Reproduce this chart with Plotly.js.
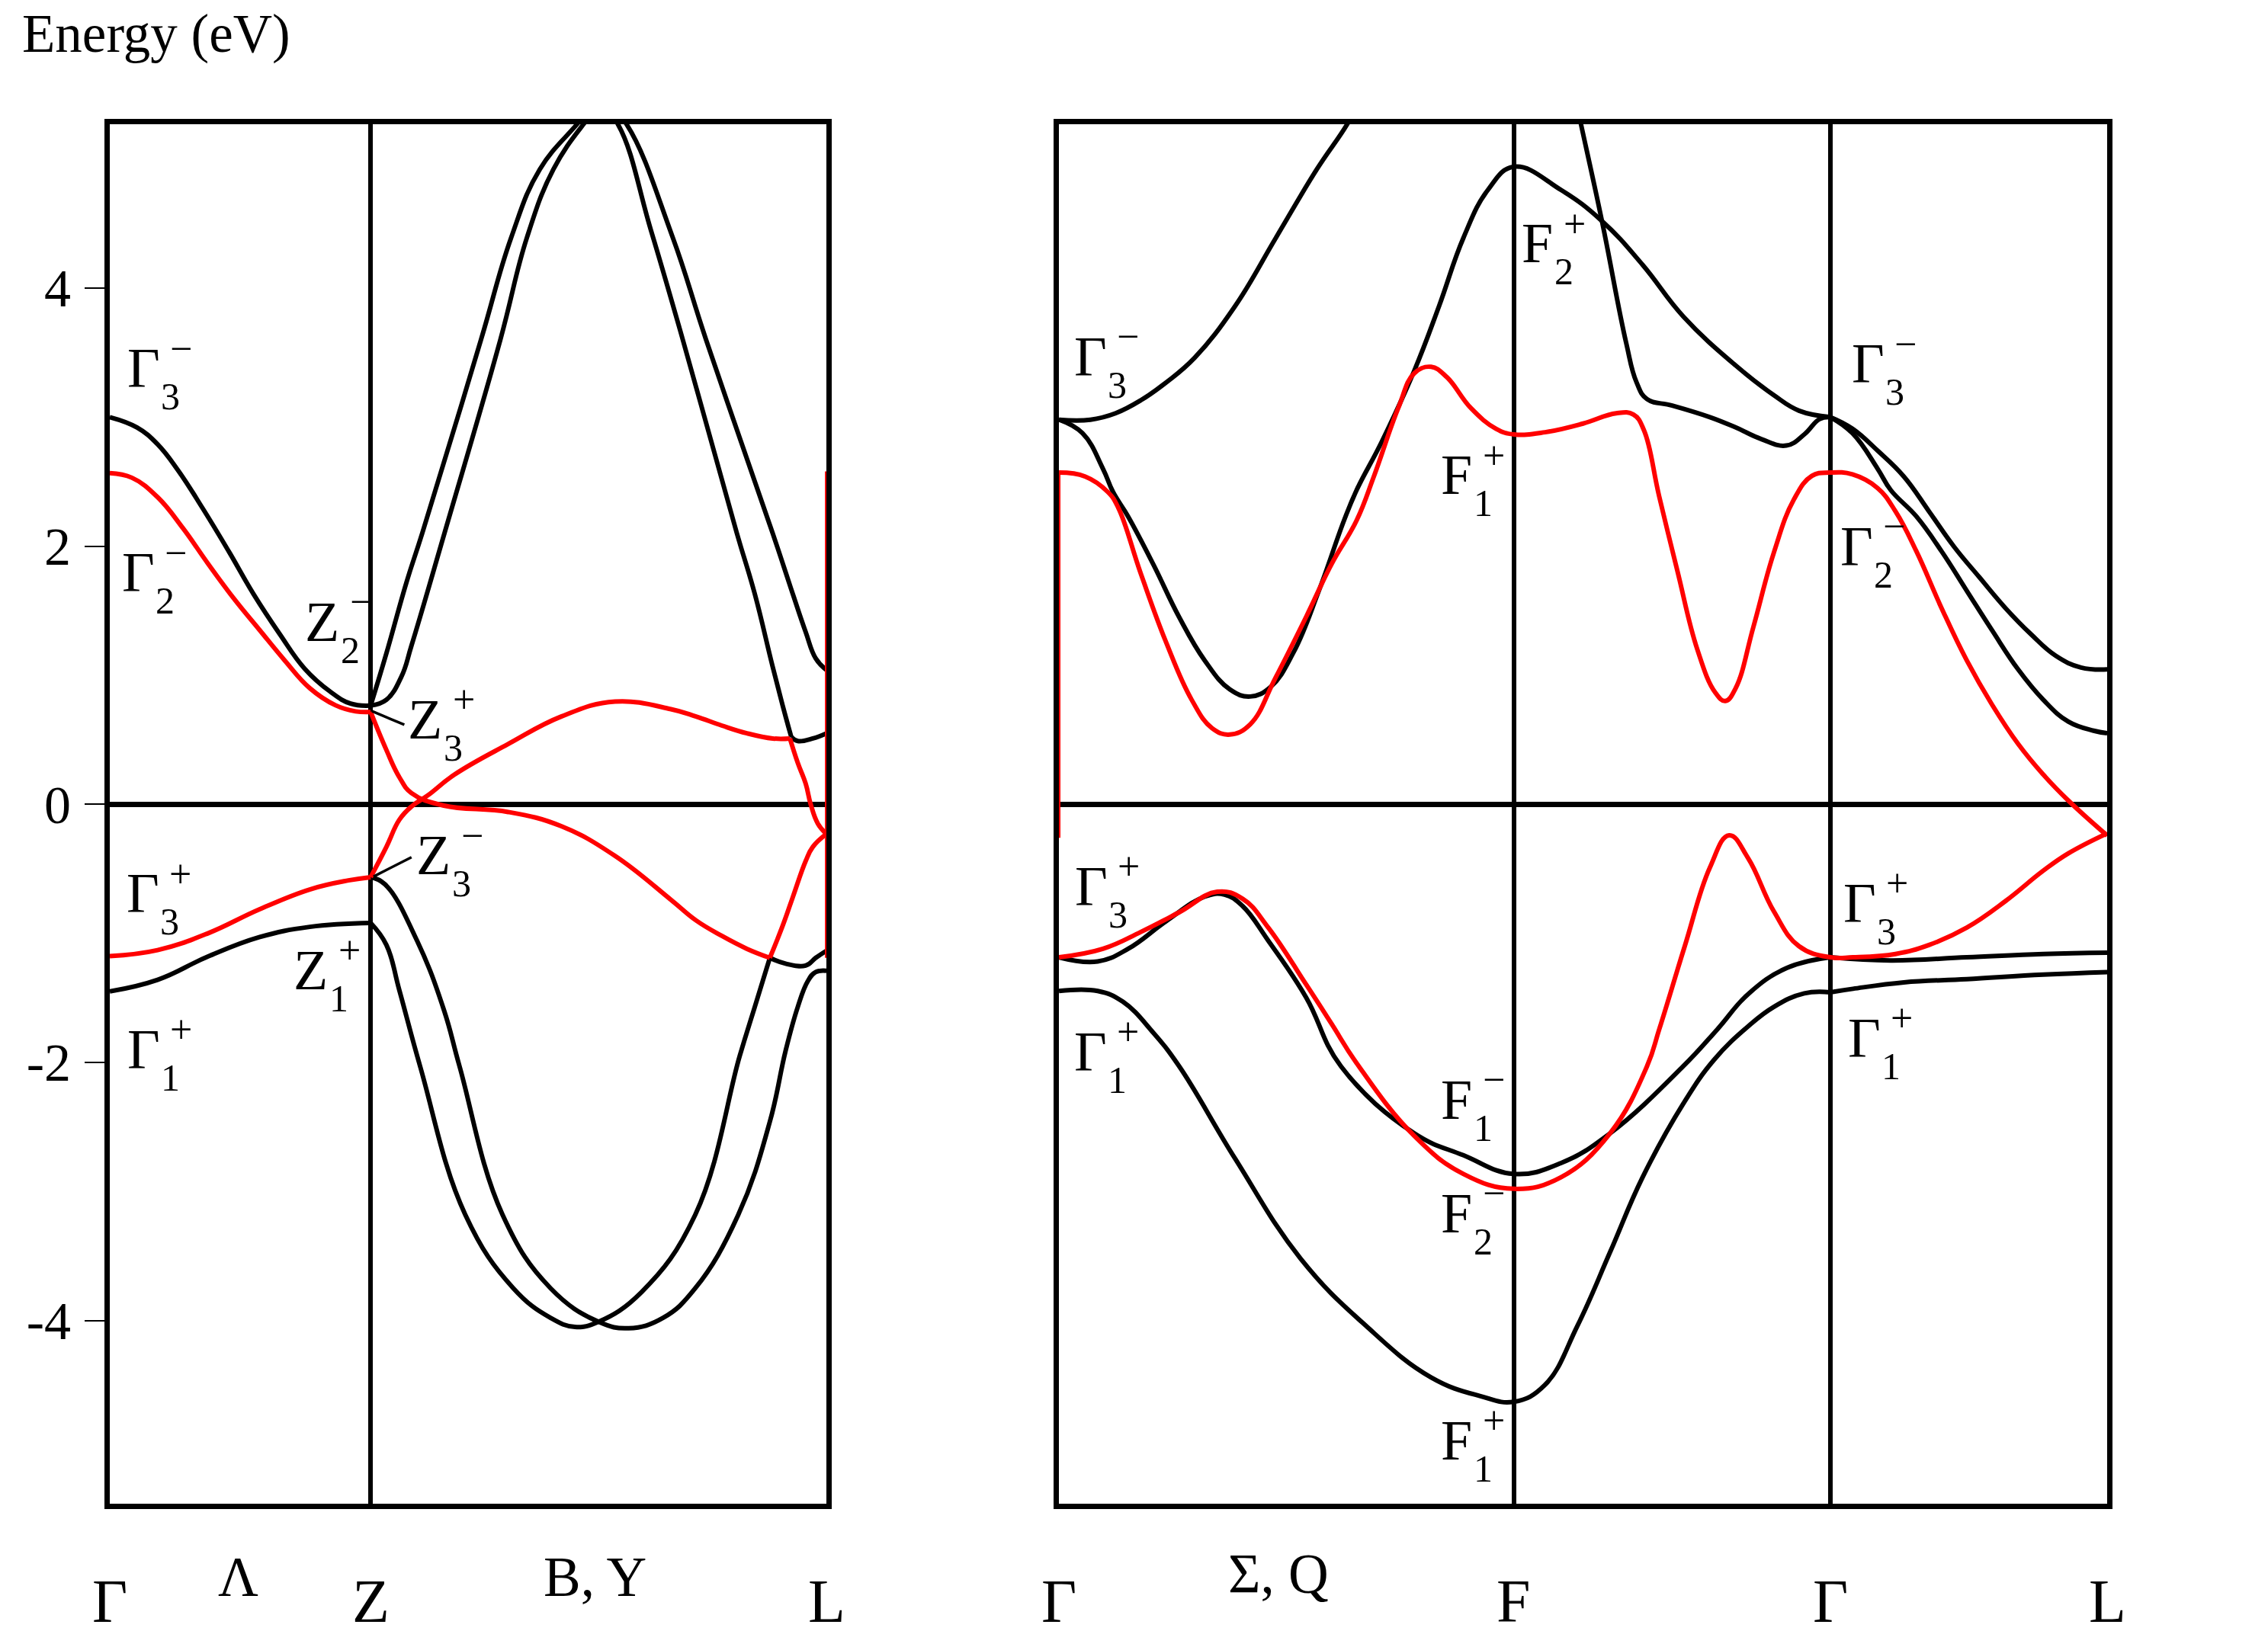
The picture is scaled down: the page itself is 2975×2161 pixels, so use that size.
<!DOCTYPE html>
<html>
<head>
<meta charset="utf-8">
<script src="https://cdn.plot.ly/plotly-3.0.1.min.js"></script>
<style>
  html, body { margin: 0; padding: 0; background: #fff; }
  #bands { width: 2975px; height: 2161px; }
</style>
</head>
<body>
<div id="bands"></div>
<script>
// band structure, energies in eV, k = fraction of the path length in each panel

// ---- panel 1: Γ - Z - L ----
const leftPath = [["Γ", 0], ["Z", 0.364], ["L", 1]];
const leftLines = [["Λ", 0.179], ["B, Y", 0.677]];

const leftGamma3m = [[0,3.00],[.038,2.92],[.0667,2.79],[.095,2.59],[.13,2.29],[.166,1.96],[.201,1.625],[.237,1.32],[.272,1.05],[.3075,.873],[.336,.78],[.364,.765]];
const leftGamma1p = [[0,-1.45],[.0667,-1.36],[.137,-1.18],[.2085,-1.03],[.279,-.95],[.364,-.92]];
const leftUpperA = [[.364,.765],[.386,1.17],[.414,1.72],[.436,2.10],[.518,3.60],[.56,4.39],[.60,4.92],[.652,5.27],[.68,5.45],[.709,5.27],[.755,4.45],[.797,3.65],[.875,2.10],[.90,1.63],[.925,1.065],[.943,.68],[.951,.52]];
const leftHookL1p = [[.951,.52],[.96,.49],[.981,.51],[1,.55]];
const leftUpperB = [[.364,.765],[.386,.81],[.407,.99],[.421,1.23],[.467,2.10],[.545,3.60],[.582,4.39],[.619,4.92],[.661,5.27],[.69,5.45],[.721,5.27],[.785,4.40],[.832,3.60],[.925,2.10],[.953,1.63],[.971,1.335],[.985,1.13],[1,1.04]];
const leftLowerA = [[.364,-.92],[.386,-1.09],[.404,-1.44],[.433,-2.03],[.496,-3.18],[.563,-3.75],[.615,-3.98],[.649,-4.05],[.682,-4.01],[.742,-3.78],[.817,-3.18],[.879,-1.95],[.90,-1.57],[.921,-1.19]];
const leftLowerB = [[.364,-.565],[.384,-.62],[.429,-1.06],[.466,-1.59],[.488,-2.03],[.548,-3.18],[.615,-3.75],[.682,-4.01],[.724,-4.06],[.772,-3.98],[.817,-3.75],[.877,-3.18],[.921,-2.46],[.943,-1.91],[.96,-1.57],[.974,-1.37],[.985,-1.30],[1,-1.29]];
const leftHookL2p = [[.921,-1.19],[.943,-1.235],[.971,-1.25],[.985,-1.19],[1,-1.135]];

const leftRedGamma2m = [[0,2.566],[.031,2.53],[.0667,2.38],[.102,2.14],[.137,1.865],[.173,1.595],[.2085,1.354],[.244,1.115],[.279,.90],[.315,.767],[.343,.72],[.364,.715]];
const leftRedGamma3p = [[0,-1.177],[.0667,-1.13],[.137,-1.0],[.2085,-.815],[.279,-.66],[.333,-.59],[.364,-.565]];
const leftRedFromZ3p = [[.364,.715],[.386,.42],[.404,.21],[.421,.087],[.466,-.01],[.556,-.06],[.63,-.17],[.705,-.40],[.783,-.74],[.818,-.90],[.854,-1.02],[.889,-1.12],[.921,-1.19]];
const leftRedFromZ3m = [[.364,-.565],[.386,-.33],[.404,-.12],[.421,-.017],[.444,.07],[.481,.23],[.556,.467],[.63,.68],[.705,.796],[.783,.737],[.818,.68],[.854,.61],[.889,.55],[.925,.51],[.949,.51]];
const leftRedDropL = [[.949,.51],[.96,.32],[.971,.16],[.978,0],[.988,-.15],[1,-.23]];
const leftRedRiseL = [[.921,-1.19],[.939,-.94],[.953,-.72],[.971,-.44],[.981,-.33],[1,-.23]];
const leftRedEdgeL = [[1,2.58],[1,-1.19]];

// ---- panel 2: Γ - F - Γ - L ----
const rightPath = [["Γ", 0], ["F", 0.434], ["Γ", 0.7358], ["L", 1]];
const rightLines = [["Σ, Q", 0.2095]];

const rightGamma3mUp = [[0,2.98],[.03,2.98],[.054,3.03],[.078,3.13],[.1025,3.27],[.1295,3.46],[.168,3.86],[.207,4.39],[.246,4.92],[.275,5.27],[.29,5.5]];
const rightF2p = [[0,2.98],[.0225,2.875],[.042,2.60],[.0516,2.42],[.066,2.23],[.09,1.86],[.1147,1.45],[.139,1.115],[.163,.89],[.1825,.835],[.202,.91],[.224,1.18],[.248,1.655],[.272,2.20],[.284,2.435],[.308,2.81],[.339,3.36],[.3626,3.86],[.3859,4.39],[.4092,4.76],[.434,4.94],[.479,4.76],[.518,4.52],[.5568,4.18],[.5956,3.78],[.6456,3.40],[.682,3.17],[.706,3.05],[.7358,3.0]];
const rightSteep = [[.49,5.57],[.498,5.27],[.518,4.52],[.541,3.58],[.551,3.27],[.561,3.14],[.585,3.09],[.621,3.00],[.6456,2.92],[.67,2.83],[.694,2.78],[.711,2.866],[.7256,2.985],[.7358,3.0]];
const rightL1m = [[.7358,3.0],[.757,2.91],[.781,2.74],[.806,2.54],[.83,2.27],[.854,1.995],[.878,1.76],[.903,1.52],[.927,1.32],[.951,1.15],[.975,1.06],[1,1.045]];
const rightL1p = [[.7358,3.0],[.757,2.875],[.781,2.60],[.7935,2.435],[.818,2.23],[.842,1.96],[.866,1.655],[.89,1.35],[.915,1.045],[.939,.81],[.963,.64],[.987,.57],[1,.55]];
const rightF1m = [[0,-1.186],[.037,-1.218],[.066,-1.12],[.1025,-.905],[.139,-.716],[.158,-.70],[.175,-.787],[.1997,-1.057],[.2357,-1.495],[.269,-2.03],[.339,-2.55],[.3859,-2.72],[.434,-2.865],[.479,-2.78],[.5257,-2.55],[.5956,-2.03],[.6285,-1.74],[.6576,-1.47],[.694,-1.27],[.7358,-1.186]];
const rightL2p = [[.7358,-1.186],[.7935,-1.21],[.866,-1.186],[.939,-1.16],[1,-1.15]];
const rightF1p = [[0,-1.447],[.037,-1.447],[.061,-1.53],[.09,-1.77],[.1147,-2.03],[.1684,-2.75],[.2305,-3.52],[.2927,-4.04],[.3548,-4.44],[.4015,-4.585],[.434,-4.63],[.4636,-4.50],[.4947,-4.04],[.5258,-3.47],[.5568,-2.89],[.5956,-2.32],[.625,-1.98],[.6576,-1.72],[.682,-1.57],[.711,-1.465],[.7358,-1.457]];
const rightL2m = [[.7358,-1.457],[.7575,-1.43],[.806,-1.38],[.866,-1.355],[.939,-1.32],[1,-1.30]];

const rightRedUpper = [[0,2.57],[.025,2.54],[.0466,2.42],[.0565,2.30],[.078,1.79],[.1025,1.25],[.1266,.81],[.146,.59],[.163,.54],[.1825,.62],[.2066,.98],[.2357,1.45],[.26,1.86],[.284,2.20],[.3004,2.54],[.3237,3.07],[.339,3.34],[.355,3.39],[.37,3.31],[.393,3.07],[.417,2.91],[.434,2.866],[.4638,2.883],[.50,2.95],[.5316,3.03],[.548,3.02],[.558,2.90],[.5725,2.39],[.5898,1.815],[.609,1.20],[.626,.867],[.6357,.80],[.6456,.90],[.6625,1.375],[.682,1.95],[.701,2.36],[.7183,2.545],[.7358,2.57],[.757,2.556],[.781,2.45],[.798,2.27],[.818,1.96],[.842,1.52],[.866,1.115],[.89,.774],[.915,.468],[.939,.23],[.963,.028],[1,-.243]];
const rightRedLower = [[0,-1.186],[.042,-1.12],[.078,-.99],[.1147,-.837],[.151,-.678],[.1753,-.733],[.1997,-.956],[.2357,-1.395],[.26,-1.70],[.284,-2.006],[.339,-2.57],[.3859,-2.865],[.434,-2.98],[.479,-2.89],[.5257,-2.55],[.561,-2.03],[.5728,-1.74],[.597,-1.10],[.621,-.49],[.6394,-.24],[.6576,-.42],[.682,-.83],[.706,-1.10],[.7358,-1.186],[.7575,-1.186],[.798,-1.16],[.83,-1.09],[.866,-.956],[.903,-.75],[.939,-.515],[.963,-.38],[1,-.225]];
const rightRedEdgeG = [[0,2.57],[0,-.26]];

// level labels: letter, subscript, superscript, k, E (left edge / centre of the letter)
const leftLabels = [
  ["Γ","3","−", .0223, 3.377], ["Γ","2","−", .0149, 1.794], ["Z","2","−", .270, 1.416],
  ["Z","3","+", .414, .660], ["Z","3","−", .4255, -.397], ["Γ","3","+", .0213, -.692],
  ["Z","1","+", .254, -1.283], ["Γ","1","+", .0223, -1.90],
  ["L","1","−", 1.033, 1.175], ["L","1","+", 1.033, .554], ["L","2","−", 1.0234, -.173],
  ["L","1","+", 1.134, -.173], ["L","2","+", 1.033, -.880], ["L","2","−", 1.033, -1.406]
];
const rightLabels = [
  ["Γ","3","−", .0131, 3.47], ["Γ","2","−", -.083, 2.427], ["F","2","+", .44, 4.346],
  ["F","1","+", .363, 2.55], ["Γ","3","−", .755, 3.413], ["Γ","2","−", .744, 2.0],
  ["L","1","−", 1.027, 1.157], ["L","1","+", 1.023, .53], ["L","2","−", 1.015, -.173],
  ["L","1","+", 1.0887, -.173], ["Γ","3","+", .0138, -.634], ["Γ","3","+", .747, -.764],
  ["L","2","+", 1.023, -.923], ["L","2","−", 1.023, -1.478], ["Γ","1","+", .0131, -1.915],
  ["Γ","1","+", .751, -1.81], ["F","1","−", .363, -2.287], ["F","2","−", .363, -3.167],
  ["F","1","+", .363, -4.927]
];

// leader lines from Z to the Z3 labels
const leaders = [[[.366,.721],[.411,.616]], [[.368,-.56],[.421,-.41]]];

const yTicks = [-4, -2, 0, 2, 4];
const yTickText = ["-4", "-2", "0", "2", "4"];

const BLACK = "#000000";
const RED = "#ff0000";
const FONT = "Liberation Serif, Times New Roman, serif";

function band(pts, color, panel, width) {
  return {
    x: pts.map(p => p[0]),
    y: pts.map(p => p[1]),
    type: "scatter",
    mode: "lines",
    xaxis: panel === 2 ? "x2" : "x",
    yaxis: panel === 2 ? "y2" : "y",
    line: { color: color, width: width || 6, shape: "spline", smoothing: 1.2 },
    hoverinfo: "skip",
    showlegend: false
  };
}

let data = [
  band(leftGamma3m, BLACK, 1), band(leftGamma1p, BLACK, 1),
  band(leftUpperA, BLACK, 1), band(leftHookL1p, BLACK, 1),
  band(leftUpperB, BLACK, 1), band(leftLowerA, BLACK, 1),
  band(leftLowerB, BLACK, 1), band(leftHookL2p, BLACK, 1),
  band(leftRedGamma2m, RED, 1), band(leftRedGamma3p, RED, 1),
  band(leftRedFromZ3p, RED, 1), band(leftRedFromZ3m, RED, 1),
  band(leftRedDropL, RED, 1), band(leftRedRiseL, RED, 1),
  band(leftRedEdgeL, RED, 1, 4),

  band(rightGamma3mUp, BLACK, 2), band(rightF2p, BLACK, 2),
  band(rightSteep, BLACK, 2), band(rightL1m, BLACK, 2),
  band(rightL1p, BLACK, 2), band(rightF1m, BLACK, 2),
  band(rightL2p, BLACK, 2), band(rightF1p, BLACK, 2),
  band(rightL2m, BLACK, 2),
  band(rightRedUpper, RED, 2), band(rightRedLower, RED, 2),
  band(rightRedEdgeG, RED, 2, 4)
];

// approximate advance of the capital letters at 74px, for placing the indices
const letterWidth = { "Γ": 42, "Z": 45, "L": 45, "F": 41 };

let annotations = [];

function addLevel(lab, panel) {
  const xr = panel === 2 ? "x2" : "x";
  const yr = panel === 2 ? "y2" : "y";
  const w = letterWidth[lab[0]];
  annotations.push({ text: lab[0], x: lab[3], y: lab[4], xref: xr, yref: yr,
    xanchor: "left", yanchor: "middle", showarrow: false,
    font: { family: FONT, size: 74, color: BLACK } });
  annotations.push({ text: lab[1], x: lab[3], y: lab[4], xref: xr, yref: yr,
    xanchor: "left", yanchor: "middle", showarrow: false, xshift: w + 2, yshift: -37,
    font: { family: FONT, size: 50, color: BLACK } });
  annotations.push({ text: lab[2], x: lab[3], y: lab[4], xref: xr, yref: yr,
    xanchor: "left", yanchor: "middle", showarrow: false, xshift: w + 14, yshift: 26,
    font: { family: FONT, size: 52, color: BLACK } });
}
leftLabels.forEach(l => addLevel(l, 1));
rightLabels.forEach(l => addLevel(l, 2));

// symmetry points under the panels
function addPath(list, xr, size, y) {
  list.forEach(p => annotations.push({
    text: p[0], x: p[1], y: y, xref: xr, yref: "paper",
    xanchor: "center", yanchor: "middle", showarrow: false,
    font: { family: FONT, size: size, color: BLACK }
  }));
}
addPath(leftPath, "x", 80, 0.0278);
addPath(rightPath, "x2", 80, 0.0278);
addPath(leftLines, "x", 73, 0.0425);
addPath(rightLines, "x2", 73, 0.0444);

annotations.push({ text: "Energy (eV)", x: 0.0091, y: 0.9792, xref: "paper", yref: "paper",
  xanchor: "left", yanchor: "middle", showarrow: false,
  font: { family: FONT, size: 71, color: BLACK } });

const shapes = leaders.map(l => ({
  type: "line", xref: "x", yref: "y",
  x0: l[0][0], y0: l[0][1], x1: l[1][0], y1: l[1][1],
  line: { color: BLACK, width: 3.5 }
}));

function xAxis(domain, path) {
  return {
    domain: domain, range: [0, 1],
    tickvals: path.map(p => p[1]).filter(v => v > 0 && v < 1),
    showticklabels: false, ticks: "",
    showgrid: true, gridcolor: BLACK, gridwidth: 6,
    showline: true, linecolor: BLACK, linewidth: 7, mirror: true,
    zeroline: false, fixedrange: true, layer: "below traces"
  };
}

const layout = {
  width: 2975, height: 2161,
  margin: { l: 0, r: 0, t: 0, b: 0 },
  paper_bgcolor: "#ffffff", plot_bgcolor: "#ffffff",
  showlegend: false,
  font: { family: FONT, color: BLACK },
  xaxis: xAxis([0.0484, 0.3644], leftPath),
  xaxis2: xAxis([0.4669, 0.9291], rightPath),
  yaxis: {
    domain: [0.0870, 0.9246], range: [-5.42, 5.27],
    tickvals: yTicks, ticktext: yTickText,
    ticks: "outside", ticklen: 26, tickwidth: 2, tickcolor: BLACK,
    tickfont: { family: FONT, size: 70, color: BLACK },
    ticklabelstandoff: 4,
    showgrid: false, showline: true, linecolor: BLACK, linewidth: 7, mirror: true,
    zeroline: true, zerolinecolor: BLACK, zerolinewidth: 7,
    fixedrange: true, layer: "below traces"
  },
  yaxis2: {
    domain: [0.0870, 0.9246], range: [-5.42, 5.27], anchor: "x2",
    showticklabels: false, ticks: "",
    showgrid: false, showline: true, linecolor: BLACK, linewidth: 7, mirror: true,
    zeroline: true, zerolinecolor: BLACK, zerolinewidth: 7,
    fixedrange: true, layer: "below traces"
  },
  annotations: annotations,
  shapes: shapes
};

Plotly.newPlot("bands", data, layout, { staticPlot: true, displayModeBar: false });
</script>
</body>
</html>
